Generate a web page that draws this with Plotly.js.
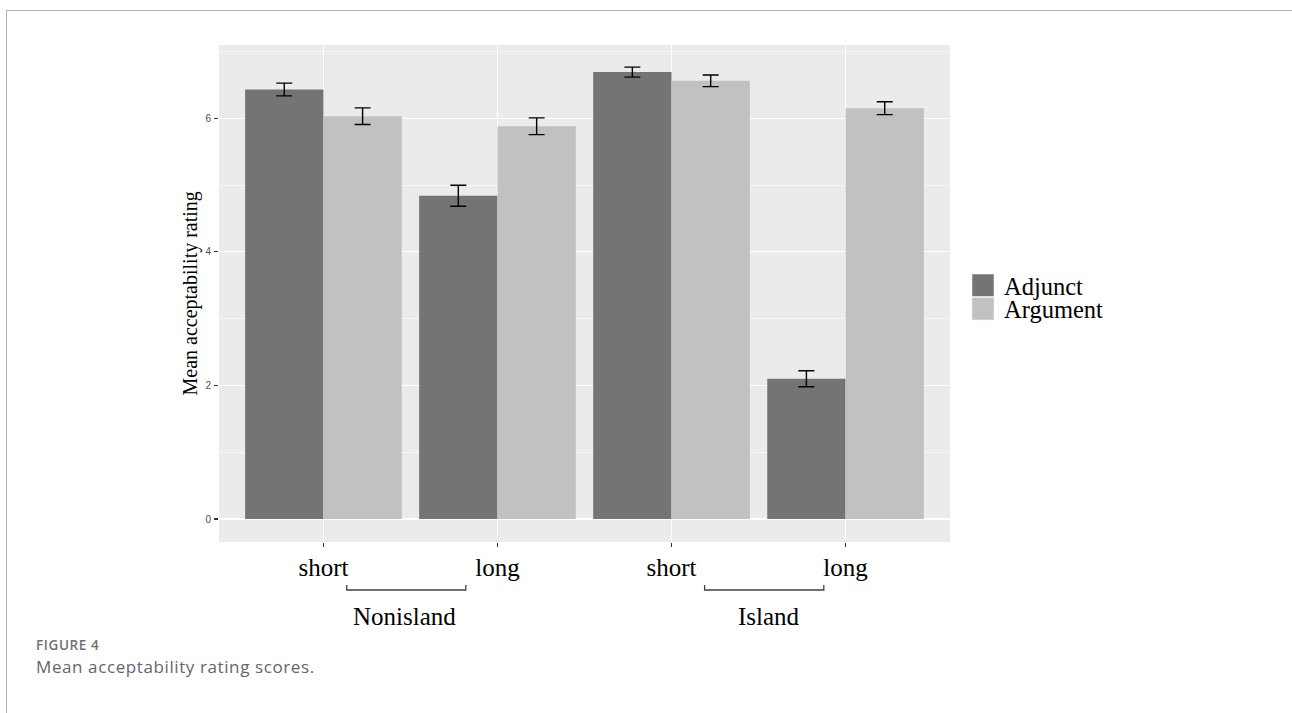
<!DOCTYPE html>
<html>
<head>
<meta charset="utf-8">
<script src="https://cdn.plot.ly/plotly-3.0.1.min.js"></script>
<style>
  html, body { margin: 0; padding: 0; background: #ffffff; }
  #wrap { position: relative; width: 1292px; height: 713px; overflow: hidden; }
  #chart { position: absolute; left: 0; top: 0; width: 1292px; height: 713px; }
  #frame { position: absolute; left: 6px; top: 10px; width: 1290px; height: 760px;
           border: 1px solid #b3b3b3; pointer-events: none; box-sizing: border-box; }
  #cap1 { position: absolute; left: 36px; top: 636px; font-family: "Open Sans", sans-serif;
          font-size: 13.5px; font-weight: 600; color: #707070; letter-spacing: 0.6px; }
  #cap2 { position: absolute; left: 36px; top: 655px; font-family: "Open Sans", sans-serif;
          font-size: 17px; color: #666666; letter-spacing: 0.6px; }
</style>
</head>
<body>
<div id="wrap">
  <div id="chart"></div>
  <div id="frame"></div>
  <div id="cap1">FIGURE 4</div>
  <div id="cap2">Mean acceptability rating scores.</div>
</div>
<script>
// ---- data ----
var positions   = [1, 2, 3, 4];
var tickLabels  = ['short', 'long', 'short', 'long'];
var seriesNames = ['Adjunct', 'Argument'];
var adjunct     = [6.43, 4.84, 6.69, 2.10];
var adjunctErr  = [0.095, 0.157, 0.075, 0.12];
var argument    = [6.03, 5.88, 6.56, 6.15];
var argumentErr = [0.125, 0.125, 0.087, 0.097];
var groupNames  = ['Nonisland', 'Island'];
var groupLabelX = [1.467, 3.56];
var bracketFrom = [1.134, 3.19];
var bracketTo   = [1.818, 3.875];
var yTitle      = 'Mean acceptability rating';

var colors = ['#747474', '#c1c1c1'];
var serif = '"Liberation Serif", "Times New Roman", serif';

var errStyle = { type: 'data', visible: true, color: '#000000', thickness: 1.4, width: 8 };

var traces = [
  { type: 'bar', name: seriesNames[0], x: positions, y: adjunct,
    marker: { color: colors[0], line: { width: 0 } },
    error_y: Object.assign({ array: adjunctErr }, errStyle), showlegend: false, hoverinfo: 'none' },
  { type: 'bar', name: seriesNames[1], x: positions, y: argument,
    marker: { color: colors[1], line: { width: 0 } },
    error_y: Object.assign({ array: argumentErr }, errStyle), showlegend: false, hoverinfo: 'none' }
];

var L = 219, R = 950, T = 45, B = 542, W = 1292, H = 713;
var pw = R - L, ph = B - T;
function px(xp) { return (xp - L) / pw; }
function py(yp) { return (B - yp) / ph; }

var shapes = [];
var annotations = [];

// brackets under x tick labels
for (var g = 0; g < groupNames.length; g++) {
  shapes.push({ type: 'path', xref: 'x', yref: 'paper',
    path: 'M' + bracketFrom[g] + ',' + py(585) + ' L' + bracketFrom[g] + ',' + py(590) +
          ' L' + bracketTo[g] + ',' + py(590) + ' L' + bracketTo[g] + ',' + py(585),
    line: { color: '#404040', width: 1.3 } });
  annotations.push({ xref: 'x', yref: 'paper', x: groupLabelX[g], y: py(616),
    text: groupNames[g], showarrow: false, xanchor: 'center', yanchor: 'middle',
    font: { family: serif, size: 25, color: '#000000' } });
}

// y-axis title
annotations.push({ xref: 'paper', yref: 'paper', x: px(190), y: 0.5, text: yTitle,
  textangle: -90, showarrow: false, xanchor: 'center', yanchor: 'middle',
  font: { family: serif, size: 20, color: '#000000' } });

// legend (drawn manually for large keys)
var keyTop = [274, 297.5];
for (var s = 0; s < seriesNames.length; s++) {
  shapes.push({ type: 'rect', xref: 'paper', yref: 'paper',
    x0: px(972), x1: px(994), y0: py(keyTop[s]), y1: py(keyTop[s] + 22.5),
    fillcolor: colors[s], line: { width: 0.6, color: '#f2f2f2' } });
  annotations.push({ xref: 'paper', yref: 'paper', x: px(1002), y: py(keyTop[s] + 12),
    text: seriesNames[s], showarrow: false, xanchor: 'left', yanchor: 'middle',
    font: { family: serif, size: 24.5, color: '#000000' } });
}

var layout = {
  width: W, height: H,
  margin: { l: L, r: W - R, t: T, b: H - B, pad: 0 },
  paper_bgcolor: 'rgba(0,0,0,0)',
  plot_bgcolor: '#ebebeb',
  barmode: 'group', bargap: 0.1, bargroupgap: 0,
  showlegend: false,
  xaxis: {
    range: [0.4, 4.6], tickmode: 'array', tickvals: positions, ticktext: tickLabels,
    showgrid: true, gridcolor: '#ffffff', gridwidth: 1.3, zeroline: false,
    ticks: 'outside', ticklen: 4, tickwidth: 1.1, tickcolor: '#333333',
    tickfont: { family: serif, size: 25, color: '#000000' },
    ticklabelstandoff: -1, showline: false, fixedrange: true
  },
  yaxis: {
    range: [-0.344, 7.096], tickmode: 'linear', tick0: 0, dtick: 2,
    showgrid: true, gridcolor: '#ffffff', gridwidth: 1.3, zeroline: false,
    minor: { tick0: 1, dtick: 2, showgrid: true, gridcolor: '#ffffff', gridwidth: 0.6, ticks: '' },
    ticks: 'outside', ticklen: 4, tickwidth: 1.1, tickcolor: '#333333',
    tickfont: { family: '"Liberation Sans", Arial, sans-serif', size: 10, color: '#4d4d4d' },
    ticklabelstandoff: 1, showline: false, fixedrange: true
  },
  shapes: shapes,
  annotations: annotations
};

Plotly.newPlot('chart', traces, layout, { staticPlot: true, displayModeBar: false });
</script>
</body>
</html>
